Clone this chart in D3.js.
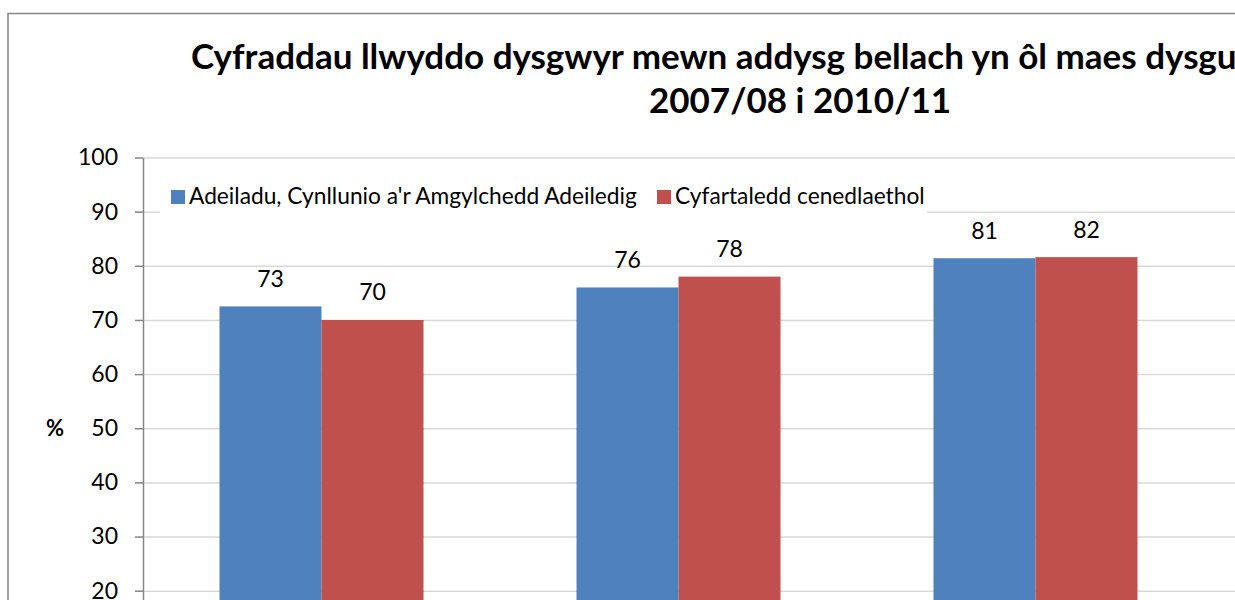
<!DOCTYPE html>
<html>
<head>
<meta charset="utf-8">
<script src="https://cdn.jsdelivr.net/npm/d3@7"></script>
<style>
  body { margin: 0; background: #fff; overflow: hidden; }
  svg { display: block; font-family: Lato, "Open Sans", sans-serif; }
</style>
</head>
<body>
<svg id="chart" width="1235" height="600"></svg>
<script>
// data (the 2010/11 group sits outside the frame)
const categories = ['2007/08', '2008/09', '2009/10', '2010/11'];
const seriesNames = ['Adeiladu, Cynllunio a\'r Amgylchedd Adeiledig', 'Cyfartaledd cenedlaethol'];
const adeiladu = [72.5, 76.0, 81.4];
const cenedlaethol = [70.0, 78.0, 81.6];
const yTicks = [0, 10, 20, 30, 40, 50, 60, 70, 80, 90, 100];
const colors = ['#4f81bd', '#c0504d'];

const titleLine1 = 'Cyfraddau llwyddo dysgwyr mewn addysg bellach yn ôl maes dysgu';
const titleLine2 = '2007/08 i 2010/11';

const svg = d3.select('#chart');

// plot area
const plotLeft = 143, plotTop = 157.5, plotBottom = 699;
const step = 357;
const plotRight = plotLeft + step * categories.length;

const x0 = d3.scaleBand()
    .domain(categories)
    .range([plotLeft, plotRight])
    .paddingInner(0.4286)
    .paddingOuter(0.2143);

const x1 = d3.scaleBand()
    .domain([0, 1])
    .range([0, x0.bandwidth()]);

const y = d3.scaleLinear()
    .domain([0, 100])
    .range([plotBottom, plotTop]);

// fit a text to a width by scaling its font size
const fitWidth = (sel, width) => {
    const w = sel.node().getComputedTextLength();
    const fs = parseFloat(sel.attr('font-size'));
    sel.attr('font-size', fs * width / w);
    return fs * width / w;
};

// outer chart border
svg.append('rect')
    .attr('x', 8)
    .attr('y', 13.5)
    .attr('width', 1600)
    .attr('height', 800)
    .attr('fill', 'none')
    .attr('stroke', '#868686')
    .attr('stroke-width', 1.5);

// gridlines
svg.append('g')
    .attr('transform', `translate(${plotLeft},0)`)
    .call(d3.axisLeft(y).tickValues(yTicks).tickSize(-(plotRight - plotLeft)).tickFormat(''))
    .call(g => g.select('.domain').remove())
    .call(g => g.selectAll('line').attr('stroke', '#d9d9d9').attr('stroke-width', 1.5));

// bars
const rows = [adeiladu, cenedlaethol];
rows.forEach((vals, s) => {
    const g = svg.append('g');
    g.selectAll('rect')
        .data(vals)
        .join('rect')
        .attr('x', (d, i) => x0(categories[i]) + x1(s))
        .attr('y', d => y(d))
        .attr('width', x1.bandwidth())
        .attr('height', d => y(0) - y(d))
        .attr('fill', colors[s]);

    g.selectAll('text')
        .data(vals)
        .join('text')
        .attr('x', (d, i) => x0(categories[i]) + x1(s) + x1.bandwidth() / 2)
        .attr('y', d => y(d) - 19.5)
        .attr('text-anchor', 'middle')
        .attr('font-size', 23)
        .attr('fill', '#000')
        .text(d => Math.round(d));
});

// y axis
svg.append('g')
    .attr('transform', `translate(${plotLeft},0)`)
    .call(d3.axisLeft(y).tickValues(yTicks).tickSize(8).tickSizeOuter(0).tickPadding(17))
    .call(g => g.select('.domain').attr('stroke', '#868686').attr('stroke-width', 1.5))
    .call(g => g.selectAll('.tick line').attr('stroke', '#868686').attr('stroke-width', 1.5))
    .call(g => g.selectAll('.tick text')
        .attr('font-size', 23)
        .attr('font-family', 'Lato, sans-serif')
        .attr('fill', '#000'));

svg.append('text')
    .attr('x', 55)
    .attr('y', 428)
    .attr('dy', '0.35em')
    .attr('text-anchor', 'middle')
    .attr('font-size', 22)
    .attr('font-weight', 'bold')
    .text('%');

// legend
const legend = svg.append('g');
legend.append('rect')
    .attr('x', 160)
    .attr('y', 185)
    .attr('width', 767)
    .attr('height', 34)
    .attr('fill', '#fff');

const legendPos = [{sq: 171, tx: 189, w: 451}, {sq: 657, tx: 675, w: 248}];
const sizes = [];
const legendTexts = seriesNames.map((name, i) => {
    legend.append('rect')
        .attr('x', legendPos[i].sq)
        .attr('y', 190)
        .attr('width', 14)
        .attr('height', 14)
        .attr('fill', colors[i]);
    const t = legend.append('text')
        .attr('x', legendPos[i].tx)
        .attr('y', 203.5)
        .attr('font-size', 20)
        .text(name);
    sizes.push(fitWidth(t, legendPos[i].w));
    return t;
});
legendTexts.forEach(t => t.attr('font-size', d3.mean(sizes)));

// title
const t1 = svg.append('text')
    .attr('x', 191)
    .attr('y', 68.5)
    .attr('font-size', 30)
    .attr('font-weight', 'bold')
    .text(titleLine1);
const titleSize = fitWidth(t1, 1046);

svg.append('text')
    .attr('x', 800)
    .attr('y', 113)
    .attr('text-anchor', 'middle')
    .attr('font-size', titleSize)
    .attr('font-weight', 'bold')
    .text(titleLine2);
</script>
</body>
</html>
